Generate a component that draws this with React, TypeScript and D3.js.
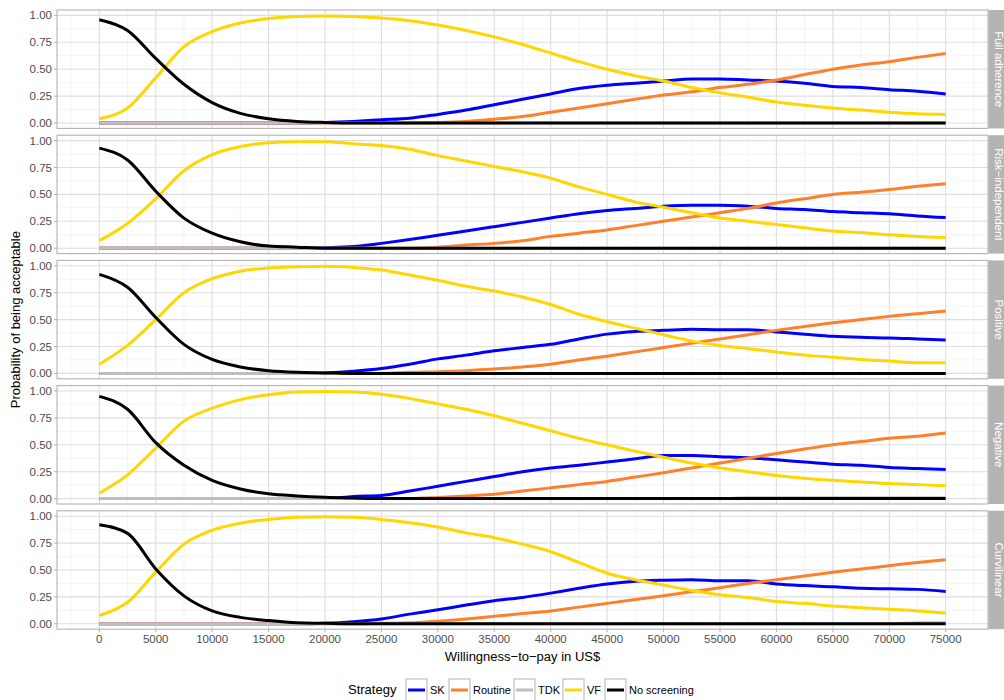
import React from 'react';
import * as d3 from 'd3';

// willingness-to-pay grid (US$)
const wtp = [0, 2500, 5000, 7500, 10000, 12500, 15000, 17500, 20000, 22500, 25000, 27500, 30000, 32500, 35000,
  37500, 40000, 42500, 45000, 47500, 50000, 52500, 55000, 57500, 60000, 62500, 65000, 67500, 70000, 72500, 75000];

const strategies = ['SK', 'Routine', 'TDK', 'VF', 'No screening'];
const colors = ['#0000FF', '#FF7F2A', '#BEBEBE', '#FFD700', '#000000'];
const facets = ['Full adherence', 'Risk\u2212independent', 'Positive', 'Negative', 'Curvilinear'];

const zeros = wtp.map(() => 0);

// Full adherence
const skFull = [0, 0, 0, 0, 0, 0, 0, 0, 0.005, 0.015, 0.03, 0.045, 0.08, 0.12, 0.17, 0.22, 0.27, 0.32, 0.35, 0.37, 0.39, 0.41, 0.41, 0.40, 0.39, 0.37, 0.34, 0.33, 0.31, 0.295, 0.27];
const routineFull = [0, 0, 0, 0, 0, 0, 0, 0, 0, 0, 0, 0, 0.005, 0.015, 0.035, 0.06, 0.10, 0.14, 0.18, 0.22, 0.26, 0.29, 0.33, 0.36, 0.40, 0.45, 0.50, 0.54, 0.57, 0.61, 0.645];
const vfFull = [0.04, 0.14, 0.42, 0.71, 0.85, 0.93, 0.97, 0.99, 0.995, 0.99, 0.975, 0.95, 0.91, 0.86, 0.80, 0.73, 0.65, 0.57, 0.50, 0.44, 0.39, 0.33, 0.28, 0.24, 0.195, 0.165, 0.14, 0.12, 0.10, 0.085, 0.08];
const noneFull = [0.96, 0.86, 0.60, 0.36, 0.19, 0.09, 0.04, 0.015, 0.005, 0, 0, 0, 0, 0, 0, 0, 0, 0, 0, 0, 0, 0, 0, 0, 0, 0, 0, 0, 0, 0, 0];

// Risk-independent
const skRisk = [0, 0, 0, 0, 0, 0, 0, 0, 0.005, 0.015, 0.045, 0.08, 0.12, 0.16, 0.20, 0.24, 0.28, 0.32, 0.35, 0.37, 0.39, 0.40, 0.40, 0.39, 0.37, 0.36, 0.34, 0.33, 0.32, 0.30, 0.285];
const routineRisk = [0, 0, 0, 0, 0, 0, 0, 0, 0, 0, 0, 0, 0.01, 0.03, 0.045, 0.07, 0.11, 0.14, 0.17, 0.21, 0.25, 0.29, 0.33, 0.37, 0.42, 0.46, 0.50, 0.52, 0.545, 0.575, 0.60];
const vfRisk = [0.07, 0.23, 0.46, 0.72, 0.87, 0.945, 0.98, 0.99, 0.99, 0.97, 0.955, 0.92, 0.86, 0.81, 0.76, 0.71, 0.65, 0.57, 0.50, 0.43, 0.38, 0.33, 0.28, 0.25, 0.22, 0.19, 0.16, 0.145, 0.125, 0.11, 0.10];
const noneRisk = [0.93, 0.82, 0.53, 0.28, 0.14, 0.06, 0.02, 0.01, 0, 0, 0, 0, 0, 0, 0, 0, 0, 0, 0, 0, 0, 0, 0, 0, 0, 0, 0, 0, 0, 0, 0];

// Positive
const skPos = [0, 0, 0, 0, 0, 0, 0, 0, 0.005, 0.02, 0.045, 0.085, 0.135, 0.17, 0.21, 0.24, 0.27, 0.32, 0.365, 0.39, 0.40, 0.41, 0.405, 0.405, 0.385, 0.365, 0.345, 0.335, 0.33, 0.32, 0.31];
const routinePos = [0, 0, 0, 0, 0, 0, 0, 0, 0, 0, 0, 0.01, 0.015, 0.025, 0.04, 0.06, 0.085, 0.125, 0.16, 0.20, 0.24, 0.28, 0.32, 0.36, 0.40, 0.435, 0.47, 0.50, 0.53, 0.555, 0.58];
const vfPos = [0.085, 0.26, 0.50, 0.75, 0.88, 0.95, 0.98, 0.99, 0.995, 0.985, 0.96, 0.915, 0.865, 0.81, 0.765, 0.71, 0.64, 0.55, 0.48, 0.42, 0.36, 0.30, 0.26, 0.23, 0.20, 0.17, 0.15, 0.13, 0.115, 0.10, 0.10];
const nonePos = [0.92, 0.80, 0.52, 0.27, 0.13, 0.06, 0.025, 0.01, 0.005, 0, 0, 0, 0, 0, 0, 0, 0, 0, 0, 0, 0, 0, 0, 0, 0, 0, 0, 0, 0, 0, 0];

// Negative
const skNeg = [0, 0, 0, 0, 0, 0, 0, 0, 0, 0.02, 0.03, 0.07, 0.115, 0.16, 0.205, 0.25, 0.285, 0.31, 0.34, 0.37, 0.40, 0.40, 0.39, 0.38, 0.36, 0.34, 0.32, 0.31, 0.29, 0.28, 0.27];
const routineNeg = [0, 0, 0, 0, 0, 0, 0, 0, 0, 0, 0, 0, 0.01, 0.025, 0.04, 0.07, 0.10, 0.13, 0.16, 0.20, 0.24, 0.285, 0.33, 0.375, 0.42, 0.46, 0.50, 0.53, 0.56, 0.58, 0.61];
const tdkNeg = [0, 0, 0, 0, 0, 0, 0, 0, 0, 0, 0, 0, 0, 0, 0, 0, 0, 0, 0, 0, 0, 0, 0, 0.008, 0.008, 0.008, 0.008, 0.008, 0.008, 0.008, 0.008];
const vfNeg = [0.05, 0.22, 0.47, 0.72, 0.84, 0.92, 0.965, 0.99, 0.995, 0.99, 0.97, 0.93, 0.88, 0.83, 0.77, 0.70, 0.63, 0.56, 0.50, 0.44, 0.385, 0.33, 0.285, 0.25, 0.215, 0.19, 0.17, 0.155, 0.14, 0.13, 0.12];
const noneNeg = [0.95, 0.83, 0.52, 0.31, 0.17, 0.09, 0.045, 0.025, 0.012, 0.005, 0, 0, 0, 0, 0, 0, 0, 0, 0, 0, 0, 0, 0, 0, 0, 0, 0, 0, 0, 0, 0];

// Curvilinear
const skCurv = [0, 0, 0, 0, 0, 0, 0, 0, 0.005, 0.02, 0.045, 0.09, 0.13, 0.175, 0.215, 0.245, 0.285, 0.33, 0.37, 0.395, 0.405, 0.41, 0.40, 0.40, 0.37, 0.355, 0.345, 0.33, 0.325, 0.32, 0.30];
const routineCurv = [0, 0, 0, 0, 0, 0, 0, 0, 0, 0, 0.005, 0.01, 0.025, 0.045, 0.07, 0.095, 0.12, 0.155, 0.19, 0.225, 0.26, 0.30, 0.335, 0.375, 0.41, 0.445, 0.48, 0.51, 0.54, 0.57, 0.595];
const tdkCurv = [0, 0, 0, 0, 0, 0, 0, 0, 0, 0, 0, 0, 0, 0, 0, 0, 0, 0, 0, 0, 0, 0, 0, 0, 0, 0, 0, 0, 0, 0.01, 0.01];
const vfCurv = [0.077, 0.20, 0.48, 0.74, 0.87, 0.935, 0.97, 0.99, 0.995, 0.99, 0.97, 0.94, 0.90, 0.845, 0.80, 0.74, 0.67, 0.57, 0.47, 0.41, 0.36, 0.31, 0.27, 0.245, 0.207, 0.19, 0.165, 0.15, 0.135, 0.12, 0.10];
const noneCurv = [0.92, 0.84, 0.51, 0.26, 0.12, 0.06, 0.03, 0.01, 0.005, 0, 0, 0, 0, 0, 0, 0, 0, 0, 0, 0, 0, 0, 0, 0, 0, 0, 0, 0, 0, 0, 0];

const panelSeries = [
  [skFull, routineFull, zeros, vfFull, noneFull],
  [skRisk, routineRisk, zeros, vfRisk, noneRisk],
  [skPos, routinePos, zeros, vfPos, nonePos],
  [skNeg, routineNeg, tdkNeg, vfNeg, noneNeg],
  [skCurv, routineCurv, tdkCurv, vfCurv, noneCurv],
];

const xTicks = d3.range(0, 75001, 5000);
const xMinor = d3.range(-2500, 78000, 5000);
const yTicks = [0, 0.25, 0.5, 0.75, 1];
const yMinor = [0.125, 0.375, 0.625, 0.875];

const font = '"Liberation Sans", Arial, sans-serif';

export default function App() {
  const left = 57, right = 988;
  const top0 = 10, panelH = 118.4, step = 125.2;
  const x = d3.scaleLinear().domain([-3750, 78750]).range([left, right]);
  const y = d3.scaleLinear().domain([-0.05, 1.05]).range([panelH, 0]);
  const line = d3.line<number>()
    .x((_, i) => x(wtp[i]))
    .y(d => y(d))
    .curve(d3.curveMonotoneX);
  const bottom = top0 + step * 4 + panelH;

  const legendX = [406, 449, 514, 563, 605];

  return (
    <svg width={1004} height={700} style={{ position: 'absolute', left: 0, top: 0, background: '#fff' }} fontFamily={font}>
      {panelSeries.map((series, p) => (
        <g key={p} transform={`translate(0,${top0 + p * step})`}>
          <rect x={left} y={0} width={right - left} height={panelH} fill="#fff" />
          {yMinor.map(t => (
            <line key={'ym' + t} x1={left} x2={right} y1={y(t)} y2={y(t)} stroke="#EDEDED" strokeWidth={0.6} />
          ))}
          {xMinor.map(t => (
            <line key={'xm' + t} x1={x(t)} x2={x(t)} y1={0} y2={panelH} stroke="#EDEDED" strokeWidth={0.6} />
          ))}
          {yTicks.map(t => (
            <line key={'yM' + t} x1={left} x2={right} y1={y(t)} y2={y(t)} stroke="#DEDEDE" strokeWidth={1.1} />
          ))}
          {xTicks.map(t => (
            <line key={'xM' + t} x1={x(t)} x2={x(t)} y1={0} y2={panelH} stroke="#DEDEDE" strokeWidth={1.1} />
          ))}
          {series.map((vals, s) => (
            <path key={s} d={line(vals) || ''} fill="none" stroke={colors[s]} strokeWidth={3} strokeLinejoin="round" />
          ))}
          <rect x={left} y={0} width={right - left} height={panelH} fill="none" stroke="#B3B3B3" strokeWidth={1.1} />
          {yTicks.map(t => (
            <g key={'yl' + t}>
              <line x1={left - 3} x2={left} y1={y(t)} y2={y(t)} stroke="#B3B3B3" />
              <text x={left - 5} y={y(t)} dy="0.35em" textAnchor="end" fontSize={11.5} fill="#4D4D4D">{t.toFixed(2)}</text>
            </g>
          ))}
          <rect x={right + 0.5} y={0} width={22} height={panelH} fill="#B3B3B3" />
          <text transform={`translate(${right + 11},${panelH / 2}) rotate(90)`} textAnchor="middle" dy="0.35em" fontSize={11.5} fill="#FFFFFF">{facets[p]}</text>
        </g>
      ))}
      {xTicks.map(t => (
        <g key={'xl' + t}>
          <line x1={x(t)} x2={x(t)} y1={bottom} y2={bottom + 3} stroke="#B3B3B3" />
          <text x={x(t)} y={bottom + 14} textAnchor="middle" fontSize={11.5} fill="#4D4D4D">{t}</text>
        </g>
      ))}
      <text x={(left + right) / 2} y={661} textAnchor="middle" fontSize={13} fill="#000">{'Willingness\u2212to\u2212pay in US$'}</text>
      <text transform={`translate(20,${(top0 + bottom) / 2}) rotate(-90)`} textAnchor="middle" fontSize={13} fill="#000">Probability of being acceptable</text>
      <text x={348} y={694} fontSize={13} fill="#000">Strategy</text>
      {strategies.map((s, i) => (
        <g key={s} transform={`translate(${legendX[i]},679)`}>
          <rect x={0} y={0} width={21} height={22} fill="#fff" stroke="#B3B3B3" />
          <line x1={2} x2={19} y1={11} y2={11} stroke={colors[i]} strokeWidth={3} />
          <text x={24} y={15} fontSize={11} fill="#000">{s}</text>
        </g>
      ))}
    </svg>
  );
}
